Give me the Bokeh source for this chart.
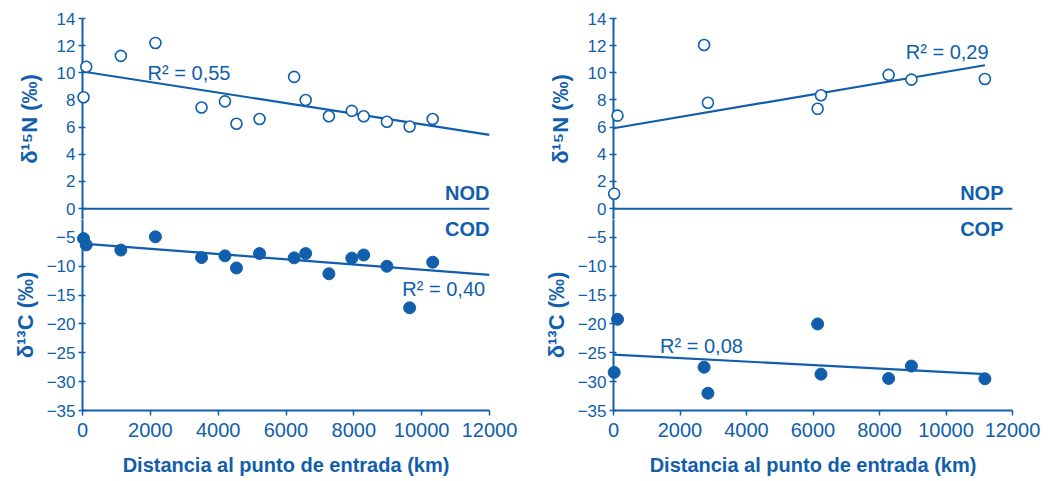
from bokeh.plotting import figure
from bokeh.models import Range1d, FixedTicker, Label
from bokeh.layouts import row, column
from bokeh.embed import file_html
from bokeh.resources import INLINE

# ---------------- data ----------------
left_x = [30, 110, 1130, 2150, 3510, 4200, 4540, 5220, 6240, 6580, 7265, 7940, 8290, 8975, 9645, 10325]
left_n15 = [8.2, 10.45, 11.25, 12.2, 7.45, 7.9, 6.25, 6.6, 9.7, 8.0, 6.8, 7.2, 6.8, 6.4, 6.05, 6.6]
left_c13 = [-5.2, -6.3, -7.2, -4.9, -8.5, -8.2, -10.3, -7.8, -8.55, -7.8, -11.3, -8.6, -8.05, -10.0, -17.2, -9.3]

right_x = [20, 120, 2725, 2840, 6140, 6240, 8275, 8960, 11170]
right_n15 = [1.1, 6.85, 12.05, 7.8, 7.35, 8.35, 9.85, 9.5, 9.55]
right_c13 = [-28.4, -19.2, -27.5, -32.0, -20.0, -28.7, -29.45, -27.3, -29.5]

# trend lines (endpoints)
left_n_fit_x = [0, 12000]
left_n_fit_y = [10.1, 5.43]
left_c_fit_x = [0, 12000]
left_c_fit_y = [-6.08, -11.5]
right_n_fit_x = [0, 11170]
right_n_fit_y = [5.92, 10.56]
right_c_fit_x = [0, 11170]
right_c_fit_y = [-25.3, -28.7]

r2_labels = {"NOD": "R² = 0,55", "COD": "R² = 0,40", "NOP": "R² = 0,29", "COP": "R² = 0,08"}

x_ticks = [0, 2000, 4000, 6000, 8000, 10000, 12000]
n_ticks = [0, 2, 4, 6, 8, 10, 12, 14]
c_ticks = [-35, -30, -25, -20, -15, -10, -5]

X_MIN, X_MAX = 0, 12000

BLUE = "#105eac"
FONT = "Liberation Sans"


def style_common(p):
    p.outline_line_color = None
    p.grid.visible = False
    p.background_fill_color = "white"
    p.border_fill_color = "white"


def style_yaxis(p, ticks, label, standoff):
    ax = p.yaxis[0]
    ax.ticker = FixedTicker(ticks=ticks)
    ax.axis_line_color = BLUE
    ax.axis_line_width = 2
    ax.major_tick_line_color = BLUE
    ax.major_tick_line_width = 1.5
    ax.major_tick_in = 3
    ax.major_tick_out = 4
    ax.minor_tick_line_color = None
    ax.major_label_text_color = BLUE
    ax.major_label_text_font = FONT
    ax.major_label_text_font_size = "17px"
    ax.major_label_standoff = 3
    ax.axis_label = label
    ax.axis_label_text_color = BLUE
    ax.axis_label_text_font = FONT
    ax.axis_label_text_font_style = "bold"
    ax.axis_label_text_font_size = "22px"
    ax.axis_label_standoff = standoff


def make_panel(xs, n15, c13, nfx, nfy, cfx, cfy, tag_top, tag_bot,
               fw, left_border, right_border, tag_xoff,
               r2_top_pos, r2_bot_pos):
    xr = Range1d(X_MIN, X_MAX)
    top_frame_h = 201
    bot_frame_h = 191
    top_h = 18 + top_frame_h
    bot_h = 481 - top_h
    width = left_border + fw + right_border

    # ---- top (delta 15N) ----
    pt = figure(width=width, height=top_h, x_range=xr, y_range=Range1d(-0.8, 14),
                x_axis_type=None, output_backend="svg", toolbar_location=None)
    style_common(pt)
    pt.min_border_left = left_border
    pt.min_border_right = right_border
    pt.min_border_top = 18
    pt.min_border_bottom = 0
    style_yaxis(pt, n_ticks, "δ¹⁵N (‰)", 12)

    pt.segment(x0=[X_MIN], y0=[0], x1=[X_MAX], y1=[0], line_color=BLUE, line_width=2)
    pt.line(nfx, nfy, line_color=BLUE, line_width=2.2)
    pt.scatter(xs, n15, size=11, marker="circle", fill_color="white",
               line_color=BLUE, line_width=1.6, level="overlay")
    pt.add_layout(Label(x=12000, y=0, x_offset=tag_xoff, y_offset=16, text=tag_top,
                        text_align="right", text_baseline="middle",
                        text_color=BLUE, text_font=FONT, text_font_style="bold",
                        text_font_size="20px"))
    pt.add_layout(Label(x=r2_top_pos[0], y=r2_top_pos[1], text=r2_labels[tag_top],
                        text_align="left", text_baseline="middle",
                        text_color=BLUE, text_font=FONT, text_font_size="20px"))

    # ---- bottom (delta 13C) ----
    pb = figure(width=width, height=bot_h, x_range=xr, y_range=Range1d(-35, -1.9),
                output_backend="svg", toolbar_location=None)
    style_common(pb)
    pb.min_border_left = left_border
    pb.min_border_right = right_border
    pb.min_border_top = 0
    pb.min_border_bottom = bot_h - bot_frame_h
    style_yaxis(pb, c_ticks, "δ¹³C (‰)", 6)

    xa = pb.xaxis[0]
    xa.ticker = FixedTicker(ticks=x_ticks)
    xa.axis_line_color = BLUE
    xa.axis_line_width = 2
    xa.major_tick_line_color = BLUE
    xa.major_tick_line_width = 1.5
    xa.major_tick_in = 0
    xa.major_tick_out = 5
    xa.minor_tick_line_color = None
    xa.major_label_text_color = BLUE
    xa.major_label_text_font = FONT
    xa.major_label_text_font_size = "20px"
    xa.major_label_standoff = 7
    xa.axis_label = "Distancia al punto de entrada (km)"
    xa.axis_label_text_color = BLUE
    xa.axis_label_text_font = FONT
    xa.axis_label_text_font_style = "bold"
    xa.axis_label_text_font_size = "20px"
    xa.axis_label_standoff = 14

    pb.line(cfx, cfy, line_color=BLUE, line_width=2.2)
    pb.scatter(xs, c13, size=12, marker="circle", fill_color=BLUE,
               line_color=BLUE, line_width=1, level="overlay")
    pb.add_layout(Label(x=12000, y=0, x_offset=tag_xoff, y_offset=-20, text=tag_bot,
                        text_align="right", text_baseline="middle",
                        text_color=BLUE, text_font=FONT, text_font_style="bold",
                        text_font_size="20px"))
    pb.add_layout(Label(x=r2_bot_pos[0], y=r2_bot_pos[1], text=r2_labels[tag_bot],
                        text_align="left", text_baseline="middle",
                        text_color=BLUE, text_font=FONT, text_font_size="20px"))
    return column(pt, pb, spacing=0)


left = make_panel(left_x, left_n15, left_c13, left_n_fit_x, left_n_fit_y,
                  left_c_fit_x, left_c_fit_y, "NOD", "COD",
                  fw=407, left_border=82, right_border=41, tag_xoff=0,
                  r2_top_pos=(1920, 10.0), r2_bot_pos=(9430, -13.9))
right = make_panel(right_x, right_n15, right_c13, right_n_fit_x, right_n_fit_y,
                   right_c_fit_x, right_c_fit_y, "NOP", "COP",
                   fw=399, left_border=83, right_border=52, tag_xoff=-9,
                   r2_top_pos=(8790, 11.5), r2_bot_pos=(1400, -23.9))

layout = row(left, right, spacing=0)

open("out.html", "w").write(file_html(layout, INLINE))
